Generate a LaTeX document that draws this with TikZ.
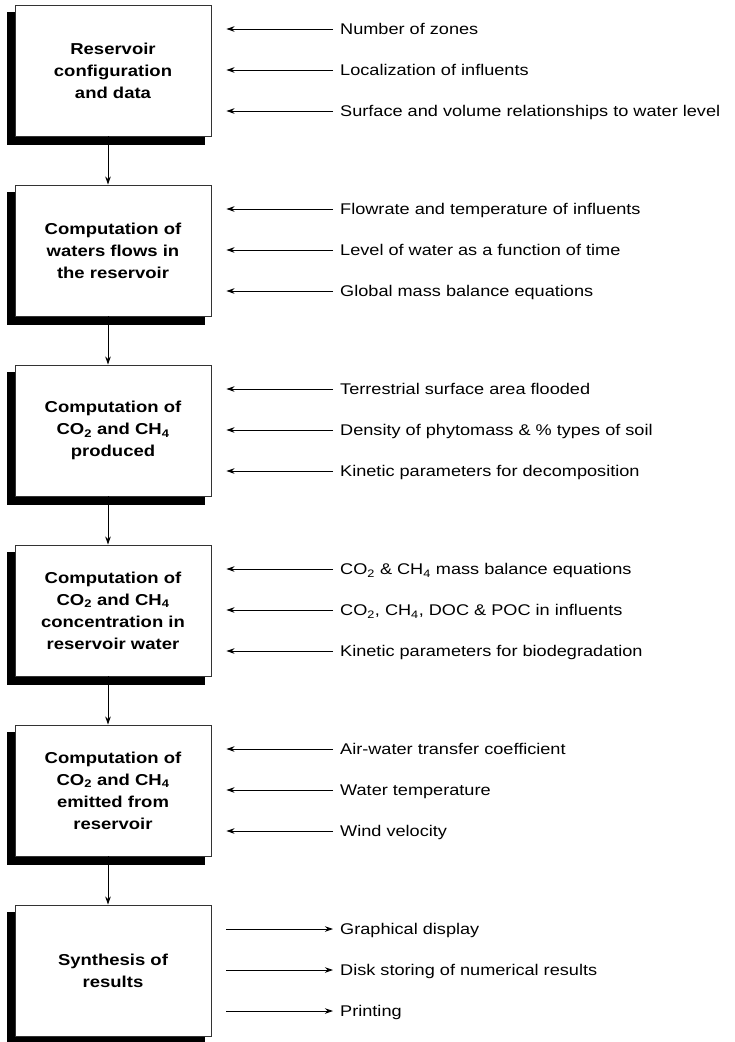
\documentclass[tikz,border=0pt]{standalone}
\usepackage{fontspec}
\setmainfont[FakeStretch=1.17]{Liberation Sans}
\usetikzlibrary{arrows.meta}
\tikzset{
  box/.style={draw=black!80, line width=0.9pt, fill=white, minimum width=196pt, minimum height=131pt, align=center, inner sep=0pt, font=\bfseries\fontsize{15.8}{22}\selectfont},
  lbl/.style={anchor=base west, inner sep=0pt, font=\fontsize{15.5}{18}\selectfont},
  arr/.style={line width=0.9pt, -{Stealth[length=8pt,width=5.5pt,inset=2.5pt]}},
}
\newcommand{\sbt}[1]{\textsubscript{#1}}
\begin{document}
\begin{tikzpicture}[x=1pt,y=-1pt]
\useasboundingbox (0,0) rectangle (735,1042);
% shadows
\foreach \k in {0,...,5}{
  \fill[black] (7,{12+180*\k}) rectangle (205,{145+180*\k});
}
\node[box] (b1) at (113,70.5) {Reservoir\\configuration\\and data};
\node[box] (b2) at (113,250.5) {Computation of\\waters flows in\\the reservoir};
\node[box] (b3) at (113,430.5) {Computation of\\CO\sbt{2} and CH\sbt{4}\\produced};
\node[box] (b4) at (113,610.5) {Computation of\\CO\sbt{2} and CH\sbt{4}\\concentration in\\reservoir water};
\node[box] (b5) at (113,790.5) {Computation of\\CO\sbt{2} and CH\sbt{4}\\emitted from\\reservoir};
\node[box] (b6) at (113,970.5) {Synthesis of\\results};
% vertical arrows
\foreach \a/\b in {b1/b2,b2/b3,b3/b4,b4/b5,b5/b6}{
  \draw[arr] ([xshift=-5pt]\a.south) -- ([xshift=-5pt]\b.north);
}
% labels
\node[lbl] (l11) at (340,34.5) {Number of zones};
\node[lbl] (l12) at (340,75.5) {Localization of influents};
\node[lbl] (l13) at (340,116.5) {Surface and volume relationships to water level};
\node[lbl] (l21) at (340,214.5) {Flowrate and temperature of influents};
\node[lbl] (l22) at (340,255.5) {Level of water as a function of time};
\node[lbl] (l23) at (340,296.5) {Global mass balance equations};
\node[lbl] (l31) at (340,394.5) {Terrestrial surface area flooded};
\node[lbl] (l32) at (340,435.5) {Density of phytomass \& \% types of soil};
\node[lbl] (l33) at (340,476.5) {Kinetic parameters for decomposition};
\node[lbl] (l41) at (340,574.5) {CO\sbt{2} \& CH\sbt{4} mass balance equations};
\node[lbl] (l42) at (340,615.5) {CO\sbt{2}, CH\sbt{4}, DOC \& POC in influents};
\node[lbl] (l43) at (340,656.5) {Kinetic parameters for biodegradation};
\node[lbl] (l51) at (340,754.5) {Air-water transfer coefficient};
\node[lbl] (l52) at (340,795.5) {Water temperature};
\node[lbl] (l53) at (340,836.5) {Wind velocity};
\node[lbl] (l61) at (340,934.5) {Graphical display};
\node[lbl] (l62) at (340,975.5) {Disk storing of numerical results};
\node[lbl] (l63) at (340,1016.5) {Printing};
% input arrows
\foreach \b/\n in {1/1,1/2,1/3,2/1,2/2,2/3,3/1,3/2,3/3,4/1,4/2,4/3,5/1,5/2,5/3}{
  \draw[arr] ([xshift=-7pt,yshift=5.5pt]l\b\n.base west) -- ([xshift=15pt,yshift=5.5pt]l\b\n.base west -| b\b.east);
}
% output arrows
\foreach \n in {1,2,3}{
  \draw[arr] ([xshift=15pt,yshift=5.5pt]l6\n.base west -| b6.east) -- ([xshift=-7pt,yshift=5.5pt]l6\n.base west);
}
\end{tikzpicture}
\end{document}
